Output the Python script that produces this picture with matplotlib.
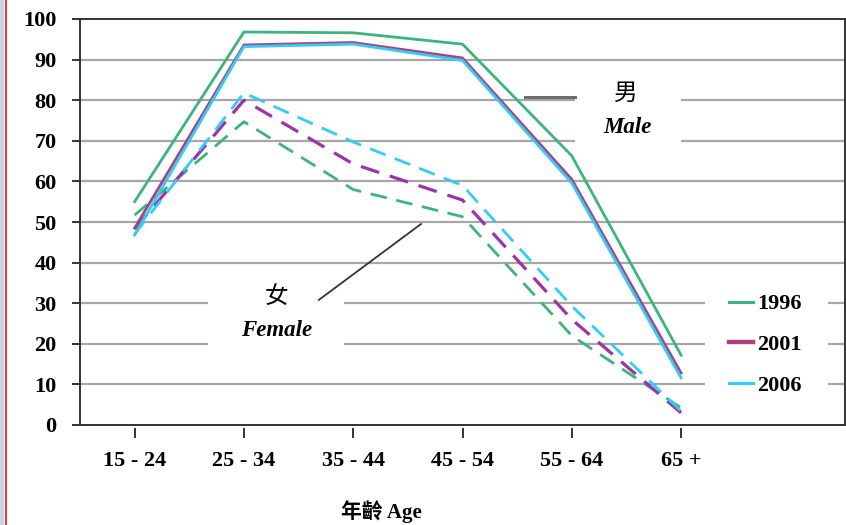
import matplotlib
matplotlib.use("Agg")
import matplotlib.pyplot as plt
from matplotlib.patches import Rectangle
import matplotlib.lines as mlines

categories = ["15 - 24", "25 - 34", "35 - 44", "45 - 54", "55 - 64", "65 +"]
years = ["1996", "2001", "2006"]
male_1996 = [55.0, 96.8, 96.6, 93.8, 66.3, 17.2]
male_2001 = [48.5, 93.6, 94.2, 90.4, 60.5, 12.8]
male_2006 = [46.8, 93.2, 93.8, 89.8, 59.6, 11.6]
female_1996 = [51.7, 74.7, 58.0, 51.3, 22.0, 4.2]
female_2001 = [48.3, 80.0, 64.3, 55.4, 26.0, 3.0]
female_2006 = [47.0, 81.8, 69.7, 59.0, 29.3, 3.4]
yticks = list(range(0, 101, 10))

green = "#3cb47c"
purple_solid = "#a8437f"
purple_dash = "#9a34a8"
cyan = "#33ccf8"

serif = ["Liberation Serif", "Noto Sans CJK TC", "DejaVu Serif"]

fig = plt.figure(figsize=(8.46, 5.25), dpi=100)
ax = fig.add_axes([80/846, 1-425/525, 765/846, 406/525])
x = list(range(len(categories)))

ax.set_xlim(-0.5, 6.5)
ax.set_ylim(0, 100)

# grid
for v in yticks[1:-1]:
    ax.axhline(v, color="#a6a6a6", lw=1.6, zorder=1)

# white boxes behind annotation text and legend
ax.add_patch(Rectangle((4.03, 62), 0.97, 26, facecolor="white", edgecolor="none", zorder=2))
ax.add_patch(Rectangle((0.67, 12), 1.25, 26, facecolor="white", edgecolor="none", zorder=2))
ax.add_patch(Rectangle((0.817, 0.062), 0.161, 0.283, transform=ax.transAxes,
                       facecolor="white", edgecolor="none", zorder=2))

lw = 2.0
ax.plot(x, female_1996, color=green, lw=lw, ls=(0, (6, 3.5)), zorder=3)
ax.plot(x, female_2001, color=purple_dash, lw=lw + 0.3, ls=(0, (6, 3.5)), zorder=3)
ax.plot(x, female_2006, color=cyan, lw=lw, ls=(0, (6, 3.5)), zorder=3)
ax.plot(x, male_1996, color=green, lw=lw, zorder=4)
ax.plot(x, male_2001, color=purple_solid, lw=lw, zorder=4)
ax.plot(x, male_2006, color=cyan, lw=lw, zorder=4)

# leader lines
ax.plot([3.57, 4.03], [80.9, 80.9], color="#6e6e6e", lw=2.2, zorder=5)
ax.plot([1.685, 2.62], [30.8, 49.5], color="#333333", lw=1.3, zorder=5)

# annotation text
ax.text(4.49, 81.5, "男", family=serif, fontsize=17, style="italic",
        ha="center", va="center", zorder=6)
ax.text(4.51, 73.3, "Male", family=serif, fontsize=16.5, style="italic",
        fontweight="bold", ha="center", va="center", zorder=6)
ax.text(1.30, 31.5, "女", family=serif, fontsize=17, style="italic",
        ha="center", va="center", zorder=6)
ax.text(1.30, 23.3, "Female", family=serif, fontsize=16.5, style="italic",
        fontweight="bold", ha="center", va="center", zorder=6)

# legend
h1 = mlines.Line2D([], [], color=green, lw=2.2)
h2 = mlines.Line2D([], [], color=purple_solid, lw=3.2)
h3 = mlines.Line2D([], [], color=cyan, lw=2.2)
leg = ax.legend([h1, h2, h3], years, loc="upper left",
                bbox_to_anchor=(0.848, 0.323), frameon=False,
                prop={"family": serif, "weight": "bold", "size": 16},
                handlelength=1.08, handletextpad=0.22, labelspacing=0.9,
                borderpad=0, borderaxespad=0)
leg.set_zorder(7)

# spines
for s in ["left", "bottom", "top", "right"]:
    ax.spines[s].set_color("#333333")
    ax.spines[s].set_linewidth(1.4)
ax.spines["bottom"].set_zorder(8)

ax.set_yticks(yticks)
ax.set_yticklabels([str(v) for v in yticks], family=serif, fontweight="bold", fontsize=16)
ax.tick_params(axis="y", direction="out", length=6, width=1.4, color="#333333", pad=11)

ax.set_xticks(x)
ax.set_xticklabels(categories, family=serif, fontweight="bold", fontsize=16)
ax.tick_params(axis="x", length=0, pad=19)
ax.vlines(x, -0.008, -0.032, transform=ax.get_xaxis_transform(), clip_on=False,
          color="#333333", lw=1.4)

fig.text(381/846, 1-512/525, "年齡 Age", family=serif, fontweight="bold", fontsize=15,
         ha="center", va="center")

# left page-edge decoration
fig.patches.append(Rectangle((0, 0), 4/846, 1, transform=fig.transFigure,
                             facecolor="#c9d5ea", edgecolor="none"))
fig.lines.append(mlines.Line2D([5.5/846, 5.5/846], [0, 1], transform=fig.transFigure,
                               color="#ee2222", lw=1.3))

fig.savefig("out.png", dpi=100)
